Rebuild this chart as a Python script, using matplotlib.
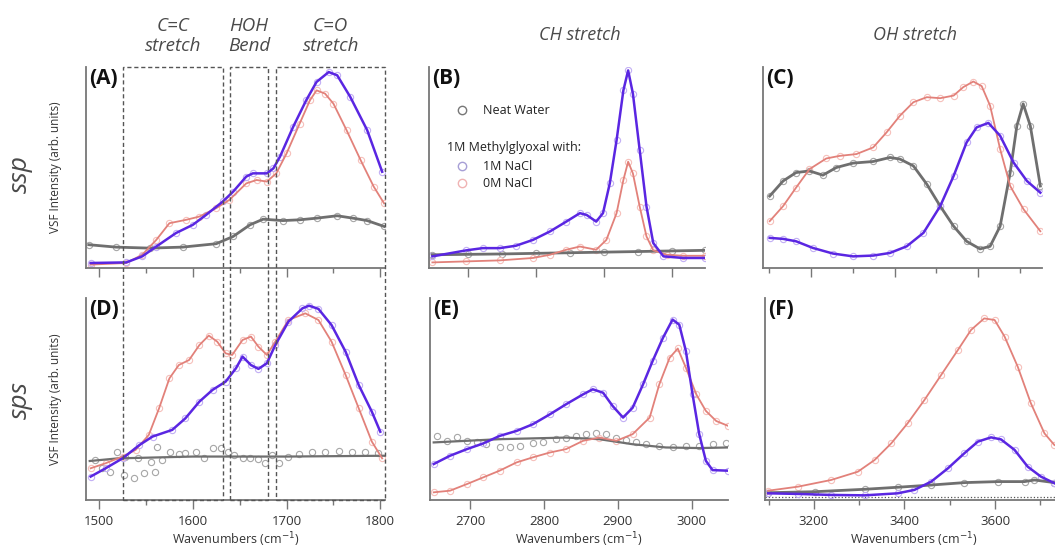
import numpy as np
import matplotlib.pyplot as plt
import matplotlib.transforms as mtransforms
from matplotlib.patches import Rectangle
from matplotlib.ticker import MultipleLocator

plt.rcParams['font.family'] = ['Open Sans', 'DejaVu Sans']

# ---------------------
# data (VSF intensity, arb. units)
# ---------------------

# (A) ssp, C=C / HOH / C=O region
A_x_1m = [1491, 1529, 1546, 1561, 1582, 1600, 1614, 1632, 1643, 1657, 1664, 1679, 1686, 1693,
          1707, 1721, 1732, 1745, 1754, 1768, 1786, 1802]
A_y_1m = [2.5, 2.8, 5.8, 10.7, 17.4, 21.5, 26.4, 33.1, 38.0, 45.5, 47.1, 47.1, 49.6, 55.4,
          70.2, 83.5, 92.6, 97.5, 95.9, 85.1, 68.6, 47.9]
A_x_0m = [1491, 1529, 1546, 1561, 1575, 1593, 1607, 1625, 1639, 1657, 1668, 1679, 1689, 1700,
          1714, 1725, 1732, 1741, 1750, 1764, 1779, 1793, 1804]
A_y_0m = [1.7, 2.5, 6.6, 14.0, 22.3, 24.0, 25.6, 29.8, 33.9, 42.1, 43.8, 43.0, 47.1, 57.0,
          71.9, 83.5, 88.4, 86.8, 81.8, 68.6, 53.7, 40.5, 32.2]
A_x_w = [1489, 1518, 1554, 1589, 1625, 1643, 1661, 1675, 1696, 1714, 1732, 1754, 1771, 1786, 1804]
A_y_w = [11.6, 10.4, 9.9, 10.4, 12.1, 15.7, 21.5, 24.3, 23.6, 24.0, 24.8, 26.0, 24.8, 23.6, 20.7]

# (B) ssp, CH stretch
B_x_1m = [2648, 2698, 2722, 2747, 2771, 2796, 2821, 2845, 2865, 2875, 2889, 2899, 2909, 2919,
          2929, 2936, 2943, 2953, 2963, 2973, 2988, 3017, 3049]
B_y_1m = [5.8, 8.8, 9.9, 9.9, 11.1, 14.0, 18.2, 23.1, 27.3, 26.4, 23.1, 27.3, 42.1, 63.6,
          88.4, 98.3, 86.8, 58.7, 30.6, 12.4, 5.8, 5.0, 5.0]
B_x_0m = [2648, 2698, 2747, 2796, 2821, 2845, 2865, 2889, 2904, 2919, 2929, 2936, 2943, 2953,
          2963, 2973, 2993, 3017, 3049]
B_y_0m = [2.8, 3.3, 3.8, 5.0, 6.6, 9.1, 10.7, 9.1, 14.0, 27.3, 43.8, 52.9, 47.1, 30.6,
          15.7, 8.8, 6.6, 6.1, 6.1]
B_x_w = [2648, 2700, 2750, 2800, 2850, 2900, 2950, 3000, 3049]
B_y_w = [6.6, 6.8, 7.0, 7.3, 7.6, 7.9, 8.2, 8.5, 8.8]

# (C) ssp, OH stretch
C_x_1m = [3102, 3134, 3165, 3205, 3253, 3301, 3349, 3389, 3429, 3469, 3509, 3541, 3572, 3596,
          3624, 3652, 3684, 3716, 3748]
C_y_1m = [15.0, 14.5, 13.3, 10.0, 7.2, 5.8, 6.2, 7.5, 10.8, 17.5, 30.8, 45.8, 62.5, 70.0,
          72.2, 65.8, 52.5, 43.3, 37.5]
C_x_0m = [3102, 3134, 3165, 3197, 3237, 3269, 3309, 3349, 3381, 3413, 3445, 3477, 3509, 3541,
          3564, 3588, 3608, 3628, 3652, 3676, 3708, 3748]
C_y_0m = [23.3, 30.8, 40.0, 49.2, 54.5, 55.8, 56.7, 60.0, 67.5, 75.8, 82.5, 85.0, 84.5, 85.8,
          90.0, 92.8, 90.5, 80.8, 59.2, 40.8, 29.2, 18.3]
C_x_w = [3102, 3134, 3165, 3197, 3229, 3261, 3301, 3349, 3389, 3413, 3445, 3477, 3509, 3541,
         3572, 3604, 3628, 3652, 3676, 3692, 3707, 3724, 3748]
C_y_w = [35.8, 43.3, 47.5, 48.3, 46.2, 50.0, 52.2, 53.0, 55.0, 54.2, 50.8, 41.7, 30.8, 20.8,
         13.3, 9.5, 10.8, 20.8, 47.5, 70.8, 81.7, 70.8, 40.8]

# (D) sps, C=C / HOH / C=O region
D_x_1m = [1491, 1507, 1525, 1543, 1557, 1578, 1592, 1607, 1621, 1635, 1646, 1653, 1662, 1670,
          1679, 1688, 1702, 1717, 1724, 1734, 1748, 1763, 1777, 1791, 1800]
D_y_1m = [11.6, 15.7, 20.6, 27.2, 31.4, 34.7, 40.4, 48.7, 54.5, 58.6, 65.2, 71.0, 66.8, 64.9,
          67.7, 76.7, 88.3, 94.9, 96.2, 94.6, 86.6, 73.4, 56.9, 43.7, 33.8]
D_x_0m = [1491, 1507, 1525, 1539, 1553, 1564, 1575, 1585, 1596, 1607, 1617, 1626, 1635, 1642,
          1653, 1662, 1670, 1679, 1688, 1702, 1720, 1734, 1748, 1763, 1777, 1791, 1802]
D_y_0m = [15.7, 18.2, 21.5, 24.8, 32.2, 45.4, 60.2, 66.8, 69.3, 76.7, 81.4, 78.4, 72.6, 71.8,
          79.2, 80.9, 75.9, 71.8, 78.4, 89.1, 92.4, 89.1, 78.4, 61.9, 45.4, 28.9, 20.6]
D_x_w_fit = [1490, 1520, 1600, 1700, 1804]
D_y_w_fit = [19.3, 20.6, 21.5, 21.5, 21.9]
D_x_w = [1496, 1503, 1512, 1519, 1527, 1528, 1537, 1541, 1548, 1555, 1560, 1562, 1567, 1576,
         1585, 1592, 1603, 1612, 1622, 1630, 1637, 1644, 1653, 1661, 1670, 1677, 1685, 1692,
         1702, 1713, 1727, 1741, 1756, 1770, 1784, 1798]
D_y_w = [19.8, 15.7, 14.0, 23.9, 12.4, 21.5, 11.1, 20.6, 13.2, 19.0, 14.0, 26.4, 19.8, 23.9,
         22.6, 23.1, 23.9, 20.6, 25.9, 25.6, 23.9, 22.3, 20.6, 20.6, 20.3, 18.2, 22.3, 18.2,
         21.5, 22.6, 23.9, 23.9, 24.3, 23.9, 23.6, 23.1]

# (E) sps, CH stretch
E_x_1m = [2651, 2673, 2696, 2718, 2740, 2763, 2785, 2808, 2830, 2853, 2866, 2880, 2893, 2907,
          2920, 2934, 2947, 2961, 2974, 2983, 2992, 3001, 3010, 3019, 3028, 3049]
E_y_1m = [17.8, 21.9, 25.2, 28.0, 31.7, 34.2, 37.5, 42.4, 47.4, 52.3, 54.8, 53.1, 46.5, 40.8,
          45.7, 57.2, 68.8, 80.3, 89.3, 86.8, 73.7, 52.3, 32.6, 19.4, 14.8, 14.5]
E_x_0m = [2651, 2673, 2696, 2718, 2740, 2763, 2785, 2808, 2830, 2853, 2875, 2898, 2920, 2943,
          2956, 2970, 2981, 2992, 3006, 3019, 3033, 3049]
E_y_0m = [3.8, 4.6, 7.9, 11.2, 14.5, 18.6, 21.1, 23.5, 25.2, 29.3, 30.9, 29.3, 32.6, 40.8,
          57.2, 70.4, 75.0, 65.5, 52.3, 44.1, 39.1, 36.7]
E_x_w_fit = [2651, 2740, 2830, 2875, 2920, 2965, 3010, 3049]
E_y_w_fit = [28.5, 30.1, 30.9, 30.1, 27.6, 26.0, 25.7, 26.0]
E_x_w = [2655, 2669, 2682, 2696, 2709, 2722, 2740, 2754, 2767, 2785, 2799, 2817, 2830, 2844,
         2857, 2871, 2884, 2898, 2911, 2925, 2938, 2956, 2974, 2992, 3010, 3028, 3046]
E_y_w = [31.7, 29.3, 31.3, 29.3, 28.5, 27.6, 26.0, 26.0, 26.8, 28.0, 28.9, 30.1, 30.9, 31.7,
         32.6, 33.4, 32.6, 30.9, 29.6, 28.5, 27.6, 26.8, 26.3, 26.8, 26.8, 27.6, 28.0]

# (F) sps, OH stretch
F_x_1m = [3099, 3165, 3238, 3312, 3385, 3422, 3459, 3496, 3532, 3562, 3591, 3613, 3643, 3672,
          3701, 3731]
F_y_1m = [3.3, 3.0, 2.5, 2.3, 3.3, 5.0, 9.1, 15.7, 23.1, 28.9, 31.0, 30.0, 24.8, 16.5, 11.6, 8.3]
F_x_0m = [3099, 3165, 3238, 3297, 3334, 3371, 3407, 3444, 3481, 3518, 3547, 3576, 3599, 3621,
          3650, 3679, 3709, 3731]
F_y_0m = [4.6, 6.6, 9.9, 14.0, 19.8, 28.1, 38.0, 49.5, 61.9, 74.3, 84.2, 89.9, 89.1, 80.9,
          66.0, 47.9, 33.0, 27.2]
F_x_w = [3099, 3202, 3312, 3385, 3459, 3532, 3606, 3665, 3687, 3731]
F_y_w = [3.6, 4.1, 5.3, 6.3, 7.4, 8.6, 9.1, 9.1, 9.9, 8.6]

# dashed boxes over A/D (cm-1)
boxes = [(1525, 1632), (1640, 1680), (1689, 1805)]
box_titles = ["C=C\nstretch", "HOH\nBend", "C=O\nstretch"]

# ---------------------
# style
# ---------------------
c_1m, m_1m = "#5a26e2", "#c2aff4"
c_0m, m_0m = "#e2817a", "#f6c0bb"
c_w, m_w = "#6f6f6f", "#a6a6a6"
spine_c = "#777777"
text_c = "#4a4a4a"


def series(ax, x, y, line_c, mark_c, lw, fit=None):
    ax.plot(x, y, 'o', mfc='none', mec=mark_c, ms=4.5, mew=0.8, zorder=2)
    if fit is None:
        ax.plot(x, y, '-', color=line_c, lw=lw, zorder=3)
    else:
        ax.plot(fit[0], fit[1], '-', color=line_c, lw=lw, zorder=3)


def style(ax, xlim, major, minor, labels):
    ax.set_xlim(*xlim)
    ax.set_ylim(0, 100)
    ax.set_yticks([])
    for s in ['top', 'right']:
        ax.spines[s].set_visible(False)
    for s in ['left', 'bottom']:
        ax.spines[s].set_color(spine_c)
        ax.spines[s].set_linewidth(1.3)
    ax.xaxis.set_major_locator(MultipleLocator(major))
    if minor:
        ax.xaxis.set_minor_locator(MultipleLocator(minor))
    ax.tick_params(axis='x', which='major', direction='out', length=6.5, width=1,
                   color=spine_c, labelsize=9.5, pad=4, labelbottom=labels, labelcolor="#333")
    ax.tick_params(axis='x', which='minor', direction='out', length=3.5, width=1, color=spine_c)
    if labels:
        ax.set_xlabel("Wavenumbers (cm$^{-1}$)", fontsize=9, color="#333", labelpad=2)


fig = plt.figure(figsize=(10.55, 5.54), dpi=100)

axA = fig.add_axes([0.0815, 0.5162, 0.2834, 0.3628])
axB = fig.add_axes([0.4066, 0.5162, 0.2616, 0.3628])
axC = fig.add_axes([0.7232, 0.5162, 0.2645, 0.3628])
axD = fig.add_axes([0.0815, 0.0975, 0.2834, 0.3646])
axE = fig.add_axes([0.4076, 0.0975, 0.2825, 0.3646])
axF = fig.add_axes([0.7251, 0.0975, 0.2825, 0.3646])

# top row: ssp
series(axA, A_x_w, A_y_w, c_w, m_w, 2.0)
series(axA, A_x_0m, A_y_0m, c_0m, m_0m, 1.3)
series(axA, A_x_1m, A_y_1m, c_1m, m_1m, 1.8)

series(axB, B_x_w, B_y_w, c_w, m_w, 2.0)
series(axB, B_x_0m, B_y_0m, c_0m, m_0m, 1.3)
series(axB, B_x_1m, B_y_1m, c_1m, m_1m, 1.8)

series(axC, C_x_w, C_y_w, c_w, m_w, 2.0)
series(axC, C_x_0m, C_y_0m, c_0m, m_0m, 1.3)
series(axC, C_x_1m, C_y_1m, c_1m, m_1m, 1.8)

# bottom row: sps
series(axD, D_x_w, D_y_w, c_w, m_w, 1.6, fit=(D_x_w_fit, D_y_w_fit))
series(axD, D_x_0m, D_y_0m, c_0m, m_0m, 1.3)
series(axD, D_x_1m, D_y_1m, c_1m, m_1m, 1.8)

series(axE, E_x_w, E_y_w, c_w, m_w, 1.6, fit=(E_x_w_fit, E_y_w_fit))
series(axE, E_x_0m, E_y_0m, c_0m, m_0m, 1.3)
series(axE, E_x_1m, E_y_1m, c_1m, m_1m, 1.8)

axF.axhline(1.3, ls=':', color="#555555", lw=0.9, zorder=1)
series(axF, F_x_w, F_y_w, c_w, m_w, 2.0)
series(axF, F_x_0m, F_y_0m, c_0m, m_0m, 1.3)
series(axF, F_x_1m, F_y_1m, c_1m, m_1m, 1.8)

style(axA, (1486, 1805), 100, 50, False)
style(axB, (2643, 3049), 100, None, False)
style(axC, (3086, 3752), 200, 100, False)
style(axD, (1486, 1805), 100, 50, True)
style(axE, (2646, 3049), 100, None, True)
style(axF, (3092, 3750), 200, 100, True)

for ax, lab in zip([axA, axB, axC, axD, axE, axF], "ABCDEF"):
    ax.text(0.012, 0.995, "(" + lab + ")", transform=ax.transAxes, ha='left', va='top',
            fontsize=15, fontweight='bold', color="#111")

for ax in [axA, axD]:
    ax.set_ylabel("VSF Intensity (arb. units)", fontsize=8.5, color="#333", labelpad=17)

# legend in (B)
leg_x, txt_x = 0.12, 0.196
axB.plot([leg_x], [0.786], 'o', mfc='none', mec="#777777", ms=6, mew=1, transform=axB.transAxes)
axB.text(txt_x, 0.786, "Neat Water", transform=axB.transAxes, va='center', fontsize=9, color="#222")
axB.text(0.065, 0.602, "1M Methylglyoxal with:", transform=axB.transAxes, va='center',
         fontsize=9, color="#222")
axB.plot([leg_x], [0.507], 'o', mfc='none', mec="#a79fd6", ms=6, mew=1, transform=axB.transAxes)
axB.text(txt_x, 0.507, "1M NaCl", transform=axB.transAxes, va='center', fontsize=9, color="#222")
axB.plot([leg_x], [0.423], 'o', mfc='none', mec="#f0b3b3", ms=6, mew=1, transform=axB.transAxes)
axB.text(txt_x, 0.423, "0M NaCl", transform=axB.transAxes, va='center', fontsize=9, color="#222")

# dashed boxes spanning A and D
trans = mtransforms.blended_transform_factory(axA.transData, fig.transFigure)
box_bottom, box_top = 0.0975, 0.879
for x0, x1 in boxes:
    r = Rectangle((x0, box_bottom), x1 - x0, box_top - box_bottom, transform=trans,
                  fill=False, ls=(0, (3, 2)), lw=1.0, ec="#555555", clip_on=False, zorder=5)
    fig.add_artist(r)

# column titles
for (x0, x1), t in zip(boxes, box_titles):
    xf = fig.transFigure.inverted().transform(axA.transData.transform(((x0 + x1) / 2, 0)))[0]
    fig.text(xf, 0.935, t, ha='center', va='center', fontsize=13.5, style='italic',
             color=text_c, linespacing=1.15)
fig.text(580 / 1055, 1 - 35 / 554, "CH stretch", ha='center', va='center', fontsize=13,
         style='italic', color=text_c)
fig.text(915 / 1055, 1 - 35 / 554, "OH stretch", ha='center', va='center', fontsize=13,
         style='italic', color=text_c)

# row labels
fig.text(0.019, 1 - 174 / 554, "ssp", rotation=90, ha='center', va='center', fontsize=19,
         style='italic', color=text_c)
fig.text(0.019, 1 - 400 / 554, "sps", rotation=90, ha='center', va='center', fontsize=19,
         style='italic', color=text_c)

fig.savefig("out.png", dpi=100)
